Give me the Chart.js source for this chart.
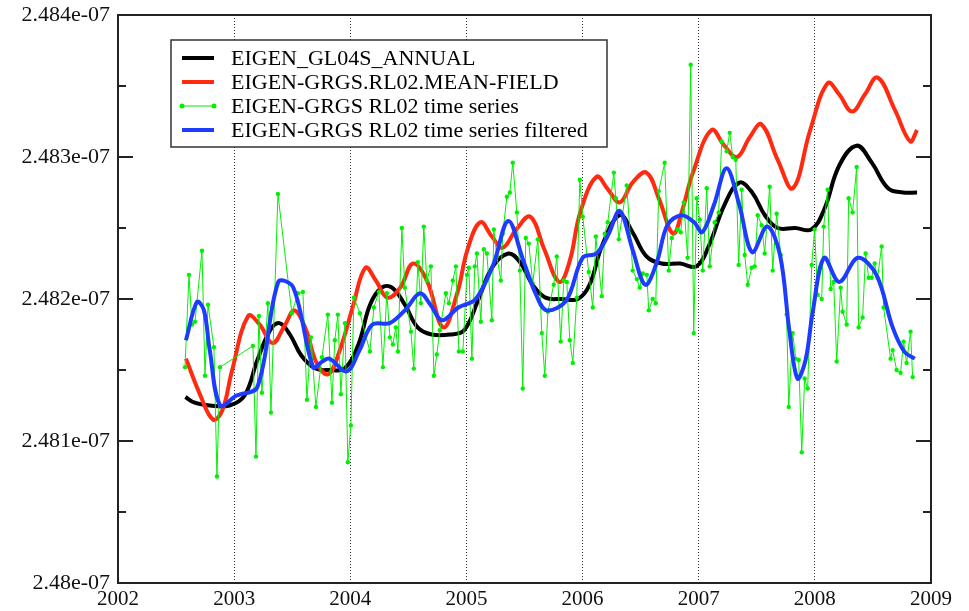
<!DOCTYPE html>
<html lang="en">
<head>
    <meta charset="UTF-8">
    <title>EIGEN C20 time series</title>
    <script src="https://cdn.jsdelivr.net/npm/chart.js"></script>
    <style>
        body {
            margin: 0;
            background: white;
        }
        .wrap {
            width: 969px;
            height: 611px;
            position: relative;
        }
    </style>
</head>
<body>
    <div class="wrap">
        <canvas id="c20Chart"></canvas>
    </div>

    <script>
        const seriesNames = [
            "EIGEN_GL04S_ANNUAL",
            "EIGEN-GRGS.RL02.MEAN-FIELD",
            "EIGEN-GRGS RL02 time series",
            "EIGEN-GRGS RL02 time series filtered"
        ];

        const xTicks = [2002, 2003, 2004, 2005, 2006, 2007, 2008, 2009];
        const yTicks = [2.480e-7, 2.481e-7, 2.482e-7, 2.483e-7, 2.484e-7];
        const yTickLabels = ["2.48e-07", "2.481e-07", "2.482e-07", "2.483e-07", "2.484e-07"];
        const yMinorTicks = [2.4805e-7, 2.4815e-7, 2.4825e-7, 2.4835e-7];

        // EIGEN_GL04S_ANNUAL (black)
        const annualYears = [2002.58, 2002.66, 2002.79, 2002.96, 2003.09, 2003.20, 2003.31, 2003.39, 2003.48, 2003.58,
            2003.70, 2003.82, 2003.95, 2004.07, 2004.17, 2004.27, 2004.36, 2004.47, 2004.58, 2004.70,
            2004.86, 2004.98, 2005.10, 2005.22, 2005.36, 2005.46, 2005.57, 2005.68, 2005.82, 2005.96,
            2006.06, 2006.17, 2006.32, 2006.43, 2006.55, 2006.68, 2006.84, 2006.98, 2007.09, 2007.22,
            2007.35, 2007.46, 2007.57, 2007.68, 2007.83, 2007.97, 2008.08, 2008.21, 2008.36, 2008.49,
            2008.63, 2008.76, 2008.88];
        const annualValues = [2.48131e-7, 2.48127e-7, 2.48125e-7, 2.48125e-7, 2.48132e-7, 2.48157e-7, 2.48178e-7, 2.48183e-7, 2.48175e-7, 2.48160e-7,
            2.48151e-7, 2.48150e-7, 2.48151e-7, 2.48168e-7, 2.48196e-7, 2.48208e-7, 2.48208e-7, 2.48196e-7, 2.48180e-7, 2.48175e-7,
            2.48175e-7, 2.48178e-7, 2.48199e-7, 2.48222e-7, 2.48232e-7, 2.48226e-7, 2.48210e-7, 2.48201e-7, 2.48200e-7, 2.48200e-7,
            2.48210e-7, 2.48238e-7, 2.48259e-7, 2.48247e-7, 2.48230e-7, 2.48225e-7, 2.48225e-7, 2.48223e-7, 2.48238e-7, 2.48266e-7,
            2.48282e-7, 2.48275e-7, 2.48259e-7, 2.48250e-7, 2.48250e-7, 2.48249e-7, 2.48263e-7, 2.48294e-7, 2.48308e-7, 2.48296e-7,
            2.48278e-7, 2.48275e-7, 2.48275e-7];

        // EIGEN-GRGS.RL02.MEAN-FIELD (red)
        const meanYears = [2002.585, 2002.71, 2002.82, 2002.90, 2002.98, 2003.12, 2003.22, 2003.33, 2003.44, 2003.52,
            2003.62, 2003.71, 2003.81, 2003.91, 2004.02, 2004.13, 2004.22, 2004.32, 2004.43, 2004.54,
            2004.66, 2004.80, 2004.92, 2005.01, 2005.12, 2005.22, 2005.31, 2005.43, 2005.55, 2005.67,
            2005.80, 2005.89, 2005.98, 2006.12, 2006.22, 2006.32, 2006.43, 2006.55, 2006.66, 2006.78,
            2006.86, 2006.95, 2007.11, 2007.22, 2007.33, 2007.44, 2007.54, 2007.68, 2007.81, 2007.96,
            2008.11, 2008.21, 2008.32, 2008.43, 2008.54, 2008.69, 2008.82, 2008.88];
        const meanValues = [2.48158e-7, 2.48132e-7, 2.48115e-7, 2.48122e-7, 2.48149e-7, 2.48188e-7, 2.48182e-7, 2.48169e-7, 2.48182e-7, 2.48192e-7,
            2.48178e-7, 2.48155e-7, 2.48147e-7, 2.48164e-7, 2.48194e-7, 2.48222e-7, 2.48213e-7, 2.48201e-7, 2.48208e-7, 2.48225e-7,
            2.48213e-7, 2.48180e-7, 2.48204e-7, 2.48235e-7, 2.48254e-7, 2.48244e-7, 2.48236e-7, 2.48249e-7, 2.48258e-7, 2.48235e-7,
            2.48212e-7, 2.48227e-7, 2.48261e-7, 2.48286e-7, 2.48277e-7, 2.48268e-7, 2.48282e-7, 2.48289e-7, 2.48270e-7, 2.48246e-7,
            2.48263e-7, 2.48289e-7, 2.48319e-7, 2.48308e-7, 2.48300e-7, 2.48314e-7, 2.48323e-7, 2.48298e-7, 2.48278e-7, 2.48319e-7,
            2.48352e-7, 2.48344e-7, 2.48332e-7, 2.48344e-7, 2.48356e-7, 2.48333e-7, 2.48311e-7, 2.48319e-7];

        // EIGEN-GRGS RL02 time series (green)
        const seriesYears = [2002.577, 2002.611, 2002.637, 2002.663, 2002.723, 2002.749, 2002.775, 2002.826, 2002.852, 2002.878,
            2003.162, 2003.188, 2003.213, 2003.239, 2003.291, 2003.317, 2003.377, 2003.497, 2003.549, 2003.592,
            2003.627, 2003.661, 2003.704, 2003.756, 2003.807, 2003.842, 2003.867, 2003.893, 2003.919, 2003.954,
            2003.979, 2004.005, 2004.031, 2004.083, 2004.169, 2004.203, 2004.246, 2004.281, 2004.315, 2004.341,
            2004.367, 2004.392, 2004.410, 2004.444, 2004.470, 2004.522, 2004.547, 2004.582, 2004.608, 2004.633,
            2004.659, 2004.694, 2004.720, 2004.745, 2004.771, 2004.823, 2004.849, 2004.883, 2004.909, 2004.935,
            2004.969, 2005.004, 2005.021, 2005.047, 2005.072, 2005.090, 2005.124, 2005.150, 2005.176, 2005.219,
            2005.236, 2005.262, 2005.296, 2005.313, 2005.348, 2005.374, 2005.399, 2005.434, 2005.460, 2005.485,
            2005.511, 2005.537, 2005.571, 2005.615, 2005.649, 2005.675, 2005.701, 2005.752, 2005.778, 2005.812,
            2005.838, 2005.864, 2005.890, 2005.916, 2005.950, 2005.976, 2006.002, 2006.053, 2006.088, 2006.114,
            2006.165, 2006.191, 2006.217, 2006.269, 2006.286, 2006.312, 2006.380, 2006.432, 2006.467, 2006.492,
            2006.518, 2006.553, 2006.570, 2006.604, 2006.630, 2006.656, 2006.707, 2006.742, 2006.768, 2006.819,
            2006.845, 2006.871, 2006.905, 2006.931, 2006.957, 2006.983, 2007.009, 2007.035, 2007.069, 2007.095,
            2007.138, 2007.172, 2007.198, 2007.241, 2007.267, 2007.293, 2007.319, 2007.344, 2007.370, 2007.396,
            2007.422, 2007.456, 2007.482, 2007.508, 2007.542, 2007.568, 2007.611, 2007.637, 2007.671, 2007.706,
            2007.757, 2007.775, 2007.809, 2007.835, 2007.861, 2007.887, 2007.912, 2007.938, 2007.973, 2007.998,
            2008.024, 2008.059, 2008.076, 2008.110, 2008.136, 2008.162, 2008.188, 2008.222, 2008.239, 2008.274,
            2008.291, 2008.325, 2008.360, 2008.377, 2008.411, 2008.437, 2008.463, 2008.489, 2008.515, 2008.540,
            2008.575, 2008.592, 2008.652, 2008.670, 2008.704, 2008.738, 2008.764, 2008.790, 2008.824, 2008.842];
        const seriesValues = [2.48152e-7, 2.48217e-7, 2.48182e-7, 2.48184e-7, 2.48234e-7, 2.48146e-7, 2.48196e-7, 2.48166e-7, 2.48075e-7, 2.48152e-7,
            2.48167e-7, 2.48089e-7, 2.48188e-7, 2.48134e-7, 2.48197e-7, 2.48120e-7, 2.48274e-7, 2.48190e-7, 2.48204e-7, 2.48205e-7,
            2.48129e-7, 2.48173e-7, 2.48124e-7, 2.48159e-7, 2.48189e-7, 2.48127e-7, 2.48171e-7, 2.48189e-7, 2.48133e-7, 2.48183e-7,
            2.48085e-7, 2.48111e-7, 2.48201e-7, 2.48190e-7, 2.48163e-7, 2.48194e-7, 2.48205e-7, 2.48152e-7, 2.48204e-7, 2.48173e-7,
            2.48168e-7, 2.48180e-7, 2.48163e-7, 2.48250e-7, 2.48208e-7, 2.48177e-7, 2.48151e-7, 2.48226e-7, 2.48197e-7, 2.48251e-7,
            2.48213e-7, 2.48223e-7, 2.48146e-7, 2.48161e-7, 2.48178e-7, 2.48204e-7, 2.48197e-7, 2.48213e-7, 2.48223e-7, 2.48163e-7,
            2.48163e-7, 2.48217e-7, 2.48222e-7, 2.48158e-7, 2.48223e-7, 2.48232e-7, 2.48184e-7, 2.48235e-7, 2.48232e-7, 2.48185e-7,
            2.48249e-7, 2.48230e-7, 2.48213e-7, 2.48246e-7, 2.48272e-7, 2.48275e-7, 2.48296e-7, 2.48261e-7, 2.48220e-7, 2.48137e-7,
            2.48243e-7, 2.48239e-7, 2.48211e-7, 2.48242e-7, 2.48176e-7, 2.48146e-7, 2.48191e-7, 2.48210e-7, 2.48230e-7, 2.48170e-7,
            2.48213e-7, 2.48212e-7, 2.48171e-7, 2.48155e-7, 2.48201e-7, 2.48284e-7, 2.48258e-7, 2.48219e-7, 2.48194e-7, 2.48244e-7,
            2.48202e-7, 2.48246e-7, 2.48254e-7, 2.48289e-7, 2.48271e-7, 2.48242e-7, 2.48280e-7, 2.48220e-7, 2.48214e-7, 2.48208e-7,
            2.48218e-7, 2.48217e-7, 2.48192e-7, 2.48200e-7, 2.48197e-7, 2.48276e-7, 2.48296e-7, 2.48220e-7, 2.48243e-7, 2.48249e-7,
            2.48247e-7, 2.48268e-7, 2.48229e-7, 2.48365e-7, 2.48176e-7, 2.48271e-7, 2.48256e-7, 2.48220e-7, 2.48278e-7, 2.48223e-7,
            2.48254e-7, 2.48261e-7, 2.48311e-7, 2.48304e-7, 2.48317e-7, 2.48300e-7, 2.48298e-7, 2.48224e-7, 2.48277e-7, 2.48231e-7,
            2.48210e-7, 2.48222e-7, 2.48223e-7, 2.48259e-7, 2.48252e-7, 2.48232e-7, 2.48279e-7, 2.48220e-7, 2.48260e-7, 2.48231e-7,
            2.48189e-7, 2.48124e-7, 2.48176e-7, 2.48158e-7, 2.48157e-7, 2.48092e-7, 2.48144e-7, 2.48137e-7, 2.48224e-7, 2.48249e-7,
            2.48203e-7, 2.48200e-7, 2.48251e-7, 2.48277e-7, 2.48207e-7, 2.48212e-7, 2.48156e-7, 2.48208e-7, 2.48191e-7, 2.48182e-7,
            2.48271e-7, 2.48261e-7, 2.48293e-7, 2.48180e-7, 2.48187e-7, 2.48232e-7, 2.48215e-7, 2.48215e-7, 2.48225e-7, 2.48215e-7,
            2.48237e-7, 2.48194e-7, 2.48158e-7, 2.48164e-7, 2.48150e-7, 2.48148e-7, 2.48170e-7, 2.48155e-7, 2.48177e-7, 2.48145e-7];

        // EIGEN-GRGS RL02 time series filtered (blue)
        const filteredYears = [2002.585, 2002.68, 2002.74, 2002.79, 2002.88, 2003.02, 2003.20, 2003.38, 2003.51, 2003.68,
            2003.76, 2003.82, 2003.97, 2004.08, 2004.19, 2004.34, 2004.47, 2004.60, 2004.69, 2004.79,
            2004.93, 2005.08, 2005.23, 2005.36, 2005.49, 2005.60, 2005.69, 2005.86, 2006.00, 2006.12,
            2006.22, 2006.32, 2006.43, 2006.54, 2006.64, 2006.73, 2006.85, 2006.96, 2007.03, 2007.13,
            2007.24, 2007.35, 2007.46, 2007.59, 2007.70, 2007.78, 2007.85, 2007.92, 2007.98, 2008.08,
            2008.21, 2008.37, 2008.53, 2008.67, 2008.77, 2008.86];
        const filteredValues = [2.48171e-7, 2.48198e-7, 2.48192e-7, 2.48164e-7, 2.48125e-7, 2.48132e-7, 2.48138e-7, 2.48212e-7, 2.48208e-7, 2.48152e-7,
            2.48156e-7, 2.48158e-7, 2.48149e-7, 2.48164e-7, 2.48182e-7, 2.48183e-7, 2.48192e-7, 2.48204e-7, 2.48196e-7, 2.48185e-7,
            2.48194e-7, 2.48200e-7, 2.48224e-7, 2.48255e-7, 2.48227e-7, 2.48203e-7, 2.48192e-7, 2.48199e-7, 2.48229e-7, 2.48232e-7,
            2.48245e-7, 2.48262e-7, 2.48235e-7, 2.48210e-7, 2.48226e-7, 2.48252e-7, 2.48259e-7, 2.48254e-7, 2.48247e-7, 2.48266e-7,
            2.48292e-7, 2.48266e-7, 2.48233e-7, 2.48251e-7, 2.48231e-7, 2.48178e-7, 2.48144e-7, 2.48157e-7, 2.48190e-7, 2.48229e-7,
            2.48212e-7, 2.48229e-7, 2.48217e-7, 2.48180e-7, 2.48163e-7, 2.48158e-7];

        const colors = ["#000000", "#ff2a10", "#00f000", "#1e3cff"];

        function toPoints(xs, ys) {
            return xs.map((x, i) => ({ x: x, y: ys[i] }));
        }

        const serif = "'Liberation Serif', 'DejaVu Serif', serif";

        // frame with inward ticks on left and right, like the original plot
        const framePlugin = {
            id: "frame",
            afterDraw(chart) {
                const ctx = chart.ctx;
                const a = chart.chartArea;
                const y = chart.scales.y;
                ctx.save();
                ctx.strokeStyle = "#222";
                ctx.lineWidth = 2;
                ctx.beginPath();
                yTicks.forEach(v => {
                    const py = Math.round(y.getPixelForValue(v));
                    ctx.moveTo(a.left, py); ctx.lineTo(a.left + 15, py);
                    ctx.moveTo(a.right, py); ctx.lineTo(a.right - 15, py);
                });
                yMinorTicks.forEach(v => {
                    const py = Math.round(y.getPixelForValue(v));
                    ctx.moveTo(a.left, py); ctx.lineTo(a.left + 8, py);
                    ctx.moveTo(a.right, py); ctx.lineTo(a.right - 8, py);
                });
                ctx.stroke();
                ctx.strokeRect(a.left, a.top, a.right - a.left, a.bottom - a.top);
                ctx.restore();
            }
        };

        // boxed legend inside the plot, upper left
        const legendPlugin = {
            id: "boxLegend",
            afterDraw(chart) {
                const ctx = chart.ctx;
                const a = chart.chartArea;
                const left = a.left + 53, top = a.top + 25;
                const w = 436, h = 107;
                ctx.save();
                ctx.fillStyle = "white";
                ctx.fillRect(left, top, w, h);
                ctx.strokeStyle = "#333";
                ctx.lineWidth = 1.5;
                ctx.strokeRect(left, top, w, h);
                ctx.font = "22px " + serif;
                ctx.textBaseline = "middle";
                seriesNames.forEach((name, i) => {
                    const ry = top + 18 + i * 24;
                    ctx.strokeStyle = colors[i];
                    ctx.lineWidth = i === 2 ? 1 : 4;
                    ctx.beginPath();
                    ctx.moveTo(left + 11, ry);
                    ctx.lineTo(left + 43, ry);
                    ctx.stroke();
                    if (i === 2) {
                        ctx.fillStyle = colors[i];
                        [left + 11, left + 43].forEach(px => {
                            ctx.beginPath();
                            ctx.arc(px, ry, 2.5, 0, Math.PI * 2);
                            ctx.fill();
                        });
                    }
                    ctx.fillStyle = "#000";
                    ctx.fillText(name, left + 60, ry + 1);
                });
                ctx.restore();
            }
        };

        const ctx = document.getElementById("c20Chart").getContext("2d");
        const chart = new Chart(ctx, {
            type: "line",
            data: {
                datasets: [
                    {
                        label: seriesNames[0],
                        data: toPoints(annualYears, annualValues),
                        borderColor: colors[0],
                        borderWidth: 4,
                        pointRadius: 0,
                        tension: 0.4,
                        order: 3
                    },
                    {
                        label: seriesNames[1],
                        data: toPoints(meanYears, meanValues),
                        borderColor: colors[1],
                        borderWidth: 4,
                        pointRadius: 0,
                        tension: 0.4,
                        order: 2
                    },
                    {
                        label: seriesNames[2],
                        data: toPoints(seriesYears, seriesValues),
                        borderColor: colors[2],
                        backgroundColor: colors[2],
                        borderWidth: 1,
                        pointRadius: 2.2,
                        pointBorderWidth: 0,
                        tension: 0,
                        order: 1
                    },
                    {
                        label: seriesNames[3],
                        data: toPoints(filteredYears, filteredValues),
                        borderColor: colors[3],
                        borderWidth: 4,
                        pointRadius: 0,
                        tension: 0.35,
                        order: 0
                    }
                ]
            },
            options: {
                responsive: true,
                maintainAspectRatio: false,
                devicePixelRatio: 1,
                animation: false,
                layout: { padding: { left: 0, top: 15, right: 38, bottom: 0 } },
                plugins: {
                    legend: { display: false },
                    tooltip: { enabled: false }
                },
                scales: {
                    x: {
                        type: "linear",
                        min: xTicks[0],
                        max: xTicks[xTicks.length - 1],
                        afterBuildTicks: scale => {
                            scale.ticks = xTicks.map(v => ({ value: v }));
                        },
                        afterFit: scale => {
                            scale.height = 28;
                            scale.paddingLeft = 0;
                            scale.paddingRight = 0;
                        },
                        border: { display: false, dash: [1, 2] },
                        grid: {
                            drawTicks: false,
                            borderDash: [1, 2],
                            color: c => (c.tick && (c.tick.value === xTicks[0] || c.tick.value === xTicks[xTicks.length - 1])) ? "rgba(0,0,0,0)" : "#333",
                            lineWidth: 1
                        },
                        ticks: {
                            padding: 4,
                            color: "#111",
                            font: { family: serif, size: 21 },
                            maxRotation: 0,
                            callback: v => String(v)
                        }
                    },
                    y: {
                        type: "linear",
                        min: yTicks[0],
                        max: yTicks[yTicks.length - 1],
                        afterBuildTicks: scale => {
                            scale.ticks = yTicks.map(v => ({ value: v }));
                        },
                        afterFit: scale => {
                            scale.width = 118;
                            scale.paddingTop = 0;
                            scale.paddingBottom = 0;
                        },
                        border: { display: false },
                        grid: { display: false, drawTicks: false },
                        ticks: {
                            padding: 8,
                            color: "#111",
                            font: { family: serif, size: 22 },
                            callback: (v, i) => yTickLabels[i]
                        }
                    }
                }
            },
            plugins: [framePlugin, legendPlugin]
        });
    </script>
</body>
</html>
